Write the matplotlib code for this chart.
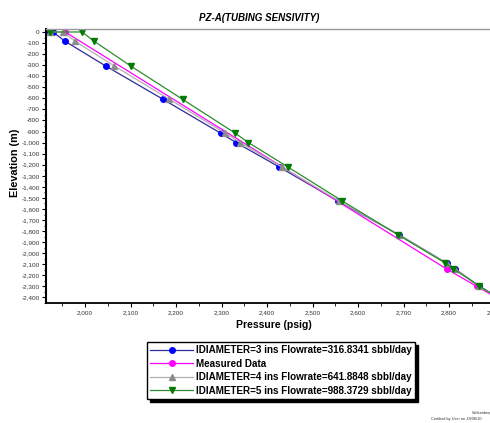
import matplotlib
matplotlib.use("Agg")
import matplotlib.pyplot as plt
from matplotlib.ticker import MultipleLocator, FuncFormatter

# elevation levels shared by the model curves (m)
elev = [0, 0, -84, -307, -608, -915, -1000, -1219, -1527, -1834, -2090, -2141, -2295, -2420]

# pressure (psig) for each tubing diameter
p_d3 = [1922, 1929, 1956, 2045, 2171, 2298, 2332, 2426, 2555, 2690, 2795, 2813, 2865, 2915]
p_d4 = [1922, 1951, 1978, 2064, 2185, 2308, 2341, 2432, 2558, 2689, 2795, 2812, 2865, 2915]
p_d5 = [1922, 1993, 2020, 2100, 2214, 2330, 2359, 2445, 2565, 2688, 2792, 2809, 2866, 2915]

# measured data
elev_meas = [0, -2144, -2300, -2420]
p_meas = [1956, 2795, 2861, 2912]

labels = ["IDIAMETER=3 ins Flowrate=316.8341 sbbl/day",
          "Measured Data",
          "IDIAMETER=4 ins Flowrate=641.8848 sbbl/day",
          "IDIAMETER=5 ins Flowrate=988.3729 sbbl/day"]

plt.rcParams['font.family'] = ['Liberation Sans', 'DejaVu Sans']

W, H = 490, 423
fig = plt.figure(figsize=(W / 100, H / 100), dpi=100)
ax = fig.add_axes([46 / W, 120 / H, (520 - 46) / W, 274 / H])

l1, = ax.plot(p_d3, elev, color='#2b2b99', lw=0.9, marker='o', ms=4,
              mfc='#0000ff', mec='#0000ff')
l2, = ax.plot(p_meas, elev_meas, color='#ff00ff', lw=0.9, marker='o', ms=4,
              mfc='#ff00ff', mec='#ff00ff')
l3, = ax.plot(p_d4, elev, color='#b0b0b0', lw=0.9, marker='^', ms=4.5,
              mfc='#8c8c8c', mec='#8c8c8c')
l4, = ax.plot(p_d5, elev, color='#2e8b2e', lw=0.9, marker='v', ms=4.5,
              mfc='#007a00', mec='#007a00')

ax.set_xlim(1914, 1914 + 474 / 0.455)
ax.set_ylim(-2450, 27)

ax.xaxis.set_major_locator(MultipleLocator(100))
ax.xaxis.set_minor_locator(MultipleLocator(50))
ax.yaxis.set_major_locator(MultipleLocator(100))
ax.yaxis.set_minor_locator(MultipleLocator(50))
fmt = FuncFormatter(lambda v, pos: f"{int(round(v)):,}")
ax.xaxis.set_major_formatter(fmt)
ax.yaxis.set_major_formatter(fmt)
ax.tick_params(axis='both', which='major', labelsize=4.6, labelcolor='#333333',
               length=3, width=0.8, pad=1.5)
ax.tick_params(axis='both', which='minor', length=1.8, width=0.6)
ax.tick_params(axis='x', pad=2.5)

ax.spines['left'].set_linewidth(1.5)
ax.spines['bottom'].set_linewidth(1.3)
ax.spines['top'].set_color('#999999')
ax.spines['top'].set_linewidth(1.0)
ax.spines['right'].set_visible(False)

fig.text(259 / W, 1 - 18 / H, "PZ-A(TUBING SENSIVITY)", ha='center', va='center',
         fontsize=7, fontweight='bold', style='italic')
fig.text(274 / W, 1 - 325 / H, "Pressure (psig)", ha='center', va='center',
         fontsize=7.5, fontweight='bold')
fig.text(15 / W, 1 - 163 / H, "Elevation (m)", ha='center', va='center',
         rotation=90, fontsize=7.8, fontweight='bold')

leg = fig.legend([l1, l2, l3, l4], labels, loc='upper left',
                 bbox_to_anchor=(147 / W, 1 - 342 / H), borderaxespad=0,
                 prop={'weight': 'bold', 'size': 7.1},
                 handlelength=4.4, handletextpad=0.3, labelspacing=0.36,
                 borderpad=0.3, fancybox=False, framealpha=1,
                 edgecolor='black',
                 shadow={'ox': 2.2, 'oy': -2.2, 'color': 'black', 'alpha': 1})
leg.get_frame().set_linewidth(1.0)

fig.text(472 / W, 1 - 413 / H, "Schlumberger", fontsize=2.8, color='#333333',
         va='center')
fig.text(431 / W, 1 - 419 / H, "Certified by User on 28/08/10", fontsize=2.8,
         color='#333333', va='center')

fig.savefig("out.png", dpi=100)
